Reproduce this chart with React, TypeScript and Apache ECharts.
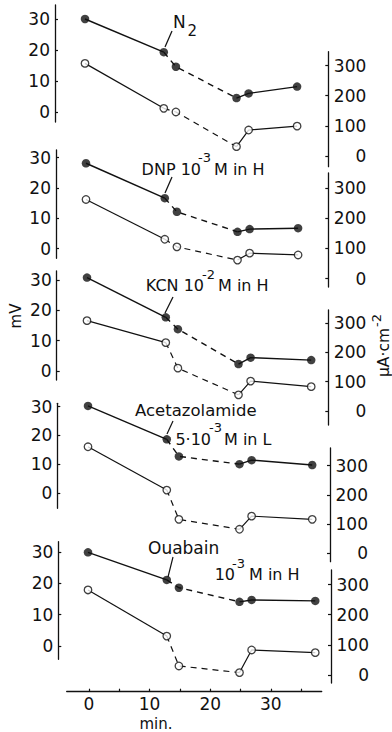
import React, { useEffect, useRef } from "react";
import * as echarts from "echarts";

// ---- data ----
const timesN2 = [0, 13, 15, 25, 27, 35];
const mvN2 = [30, 19.3, 14.6, 4.5, 6.0, 8.2];
const uaN2 = [307, 158, 146, 31, 86, 99];

const timesDNP = [0, 13, 15, 25, 27, 35];
const mvDNP = [28.1, 16.6, 12.1, 5.5, 6.4, 6.7];
const uaDNP = [262, 130, 105, 61, 84, 78];

const timesKCN = [0, 13, 15, 25, 27, 37];
const mvKCN = [30.8, 17.7, 13.8, 2.3, 4.4, 3.6];
const uaKCN = [308, 233, 146, 55, 102, 83];

const timesAcet = [0, 13, 15, 25, 27, 37];
const mvAcet = [30.2, 18.6, 12.7, 10.0, 11.4, 9.7];
const uaAcet = [364, 216, 116, 82, 127, 116];

const timesOua = [0, 13, 15, 25, 27, 37.5];
const mvOua = [29.9, 21.1, 18.6, 14.1, 14.7, 14.4];
const uaOua = [282, 129, 30, 8, 83, 74];

const mvTicks = [0, 10, 20, 30];
const uaTicks = [0, 100, 200, 300];
const minTicks = [0, 5, 10, 15, 20, 25, 30, 35];
const minLabels = [0, 10, 20, 30];

const panels = [
  { t: timesN2, mv: mvN2, ua: uaN2 },
  { t: timesDNP, mv: mvDNP, ua: uaDNP },
  { t: timesKCN, mv: mvKCN, ua: uaKCN },
  { t: timesAcet, mv: mvAcet, ua: uaAcet },
  { t: timesOua, mv: mvOua, ua: uaOua },
];

// ---- layout (pixels) ----
const PX_PER_MIN = 6.06;
const lx = [55, 56, 56.7, 57.3, 58.3];
const rx = [328.3, 328.3, 328.3, 330, 331];
const x0 = [85, 86, 87, 88, 88];
const lTop = [5, 150, 271, 403.3, 541.7];
const lBot = [122, 258.3, 380, 508.3, 659.3];
const lP30 = [19, 157.5, 280, 406.5, 552];
const lP0 = [112, 248.5, 371, 493, 646];
const rTop = [51.7, 173, 310, 448, 570];
const rBot = [166.7, 287, 425, 561.7, 683];
const rP300 = [65.5, 188, 323, 465.5, 584.5];
const rP0 = [156, 278.5, 411, 553.3, 675];

const INK = "#111";
const FONT = "DejaVu Sans";

function range(top: number, bot: number, vHi: number, pHi: number, vLo: number, pLo: number) {
  const k = (vHi - vLo) / (pLo - pHi);
  return { min: vLo - (bot - pLo) * k, max: vHi + (pHi - top) * k };
}

function seg(t: number[], v: number[], a: number, b: number) {
  const out: number[][] = [];
  for (let i = a; i <= b; i++) out.push([t[i], v[i]]);
  return out;
}

function txt(x: number, y: number, text: string, size: number, align = "left", extra: any = {}) {
  return {
    type: "text",
    x,
    y,
    ...extra,
    style: {
      text,
      x: 0,
      y: 0,
      fill: INK,
      font: `${size}px "${FONT}"`,
      align,
      textAlign: align,
      verticalAlign: "middle",
      textVerticalAlign: "middle",
    },
  };
}

function leader(x1: number, y1: number, x2: number, y2: number) {
  return { type: "line", shape: { x1, y1, x2, y2 }, style: { stroke: INK, lineWidth: 1.2 } };
}

export default function App() {
  const ref = useRef<HTMLDivElement>(null);
  useEffect(() => {
    document.body.style.margin = "0";
    if (!ref.current) return;
    const chart = echarts.init(ref.current, undefined, { renderer: "svg" });

    const grid: any[] = [];
    const xAxis: any[] = [];
    const yAxis: any[] = [];
    const series: any[] = [];

    const axisCommon = (ticks: number[], pos: string, margin: number, align?: string) => ({
      type: "value",
      position: pos,
      axisLine: { show: true, onZero: false, lineStyle: { color: INK, width: 1.3 } },
      axisTick: { show: true, inside: true, length: 3, customValues: ticks, lineStyle: { color: INK, width: 1.2 } },
      axisLabel: {
        customValues: ticks,
        margin,
        color: INK,
        fontSize: 17,
        fontFamily: FONT,
        ...(align ? { align } : {}),
      },
      splitLine: { show: false },
    });

    panels.forEach((p, i) => {
      const xmin = (lx[i] - x0[i]) / PX_PER_MIN;
      const xmax = (rx[i] - x0[i]) / PX_PER_MIN;
      const lr = range(lTop[i], lBot[i], 30, lP30[i], 0, lP0[i]);
      const rr = range(rTop[i], rBot[i], 300, rP300[i], 0, rP0[i]);
      const gl = 2 * i;
      const gr = 2 * i + 1;
      grid.push({ left: lx[i], width: rx[i] - lx[i], top: lTop[i], height: lBot[i] - lTop[i] });
      grid.push({ left: lx[i], width: rx[i] - lx[i], top: rTop[i], height: rBot[i] - rTop[i] });
      xAxis.push({ gridIndex: gl, type: "value", min: xmin, max: xmax, show: false });
      xAxis.push({ gridIndex: gr, type: "value", min: xmin, max: xmax, show: false });
      yAxis.push({ gridIndex: gl, min: lr.min, max: lr.max, ...axisCommon(mvTicks, "left", 5) });
      yAxis.push({ gridIndex: gr, min: rr.min, max: rr.max, ...axisCommon(uaTicks, "right", 38, "right") });

      const lines = (vals: number[], ax: number, w: number) => {
        const base = {
          type: "line",
          xAxisIndex: ax,
          yAxisIndex: ax,
          showSymbol: false,
          symbol: "none",
          silent: true,
          clip: false,
          z: 2,
        };
        series.push({ ...base, data: seg(p.t, vals, 0, 1), lineStyle: { color: INK, width: w, type: "solid" } });
        series.push({ ...base, data: seg(p.t, vals, 1, 3), lineStyle: { color: INK, width: w, type: [6, 5] } });
        series.push({ ...base, data: seg(p.t, vals, 3, 5), lineStyle: { color: INK, width: w, type: "solid" } });
      };
      lines(p.mv, gl, 1.4);
      lines(p.ua, gr, 1.2);
      series.push({
        type: "scatter",
        xAxisIndex: gl,
        yAxisIndex: gl,
        data: seg(p.t, p.mv, 0, 5),
        symbol: "circle",
        symbolSize: 8.5,
        itemStyle: { color: INK },
        clip: false,
        silent: true,
        z: 3,
      });
      series.push({
        type: "scatter",
        xAxisIndex: gr,
        yAxisIndex: gr,
        data: seg(p.t, p.ua, 0, 5),
        symbol: "circle",
        symbolSize: 7.5,
        itemStyle: { color: "#fff", borderColor: INK, borderWidth: 1.3 },
        clip: false,
        silent: true,
        z: 3,
      });
    });

    // bottom time axis
    const bx0 = 89;
    const bl = 66.7;
    const br = 321.7;
    grid.push({ left: bl, width: br - bl, top: 600, height: 91.7 });
    xAxis.push({
      gridIndex: 10,
      type: "value",
      min: (bl - bx0) / PX_PER_MIN,
      max: (br - bx0) / PX_PER_MIN,
      position: "bottom",
      axisLine: { show: true, onZero: false, lineStyle: { color: INK, width: 1.3 } },
      axisTick: { show: true, inside: true, length: 3, customValues: minTicks, lineStyle: { color: INK, width: 1.2 } },
      axisLabel: { customValues: minLabels, margin: 4, color: INK, fontSize: 17, fontFamily: FONT },
      splitLine: { show: false },
    });
    yAxis.push({ gridIndex: 10, type: "value", min: 0, max: 1, show: false });

    const graphic: any[] = [
      // N2
      txt(173, 21.5, "N", 17),
      txt(187.5, 31, "2", 15),
      leader(172, 31, 165, 47),
      // DNP
      txt(201, 169, "DNP 10", 16, "right"),
      txt(198, 157, "-3", 13),
      txt(214, 169, "M in H", 16),
      leader(172, 177, 165, 193),
      // KCN
      txt(204, 285, "KCN 10", 16, "right"),
      txt(202, 274, "-2", 13),
      txt(218, 285, "M in H", 16),
      leader(173, 297, 165, 313),
      // Acetazolamide
      txt(135, 410.5, "Acetazolamide", 16.5),
      txt(211, 439.5, "5·10", 16, "right"),
      txt(209, 427.5, "-3", 13),
      txt(224, 439.5, "M in L", 16),
      leader(173, 421, 167, 434),
      // Ouabain
      txt(148, 548, "Ouabain", 17),
      txt(235, 574, "10", 16, "right"),
      txt(232, 563, "-3", 13),
      txt(249, 574, "M in H", 16),
      leader(173, 557, 168, 577),
      // axis names
      txt(156, 724, "min.", 15, "center"),
      txt(16, 316, "mV", 15, "center", { rotation: Math.PI / 2 }),
      {
        type: "group",
        x: 384,
        y: 377,
        rotation: Math.PI / 2,
        children: [txt(0, 0, "μA·cm", 15.5), txt(50, -8, "-2", 13)],
      },
    ];

    chart.setOption({
      animation: false,
      backgroundColor: "#fff",
      grid,
      xAxis,
      yAxis,
      series,
      graphic,
    });
    return () => chart.dispose();
  }, []);
  return <div ref={ref} style={{ width: 392, height: 732 }} />;
}
